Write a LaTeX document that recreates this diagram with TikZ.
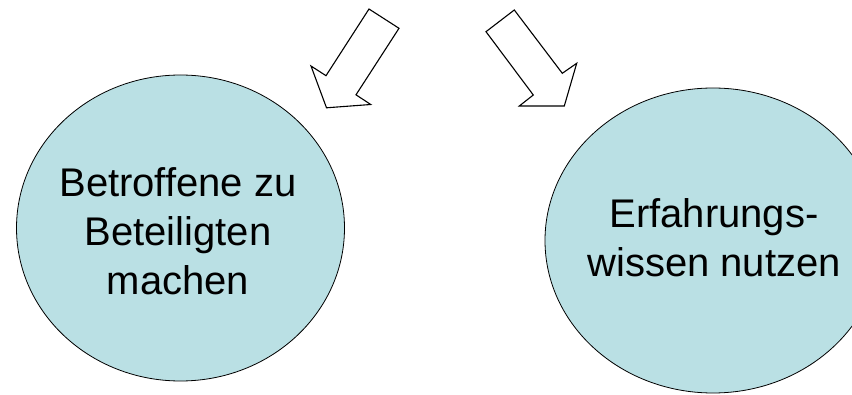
\documentclass[tikz,border=0pt]{standalone}
\usepackage{fontspec}
\setmainfont{Liberation Sans}
\definecolor{bubblefill}{RGB}{186,224,228}
\begin{document}
\begin{tikzpicture}[x=1pt,y=-1pt,
  bubbletext/.style={align=center,font=\fontsize{40}{49}\selectfont,inner sep=0pt},
  blockarrow/.style={draw=black,line width=1.1pt,fill=white,line join=miter}]
\useasboundingbox (0,0) rectangle (852,395);
\clip (0,0) rectangle (852,395);

% two round topics
\fill[bubblefill,draw=black,line width=0.8pt] (180.5,228) ellipse [x radius=164, y radius=153];
\fill[bubblefill,draw=black,line width=0.8pt] (713,240.5) ellipse [x radius=168, y radius=152.5];

% base anchor sits on the last line of each text
\node[bubbletext,anchor=base] (lefttext) at (178,295) {Betroffene zu\\Beteiligten\\machen};
\node[bubbletext,anchor=base] (righttext) at (714,277) {Erfahrungs-\\wissen nutzen};

% block arrows pointing down to each topic
\draw[blockarrow] (369,9) -- (399,28.3) -- (356,94.8) -- (370.7,104.5)
  -- (326.5,107.8) -- (311,66) -- (326,75.7) -- cycle;
\draw[blockarrow] (514.3,10) -- (486,31.7) -- (533.3,95) -- (519.3,106)
  -- (564.3,106) -- (576.7,63.3) -- (562.3,73.3) -- cycle;
\end{tikzpicture}
\end{document}
